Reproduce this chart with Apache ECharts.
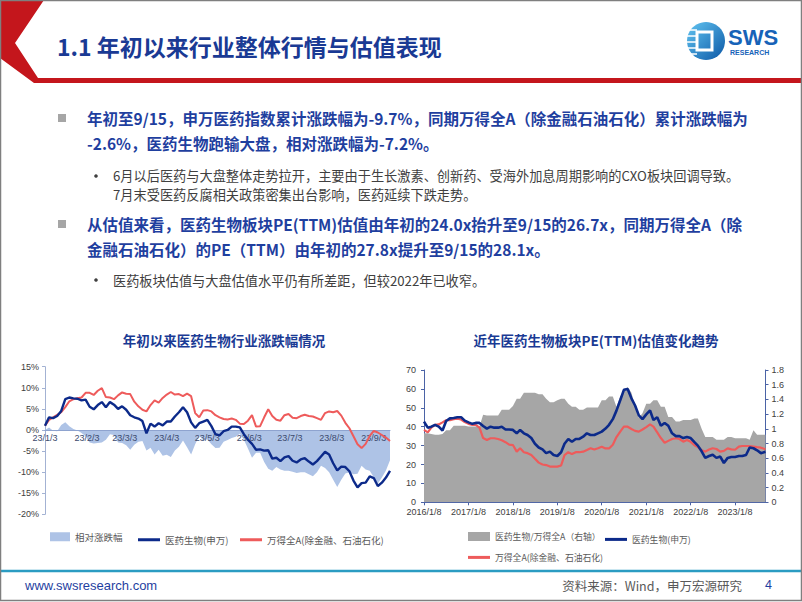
<!DOCTYPE html>
<html>
<head>
<meta charset="utf-8">
<script src="https://cdn.jsdelivr.net/npm/echarts@6/dist/echarts.min.js"></script>
<style>
html,body{margin:0;padding:0;background:#fff;}
#main{width:802px;height:602px;}
</style>
</head>
<body>
<div id="main"></div>
<script>
// ---------- Left chart data (2023 YTD change, %) ----------
const leftDates = [
 '2023-01-03','2023-01-06','2023-01-09','2023-01-12','2023-01-15','2023-01-18','2023-01-21','2023-01-24','2023-01-27','2023-01-30',
 '2023-02-02','2023-02-05','2023-02-08','2023-02-11','2023-02-14','2023-02-17','2023-02-20','2023-02-23','2023-02-26',
 '2023-03-01','2023-03-04','2023-03-07','2023-03-10','2023-03-13','2023-03-16','2023-03-19','2023-03-22','2023-03-25','2023-03-28','2023-03-31',
 '2023-04-03','2023-04-06','2023-04-09','2023-04-12','2023-04-15','2023-04-18','2023-04-21','2023-04-24','2023-04-27','2023-04-30',
 '2023-05-03','2023-05-06','2023-05-09','2023-05-12','2023-05-15','2023-05-18','2023-05-21','2023-05-24','2023-05-27','2023-05-30',
 '2023-06-02','2023-06-05','2023-06-08','2023-06-11','2023-06-14','2023-06-17','2023-06-20','2023-06-23','2023-06-26','2023-06-29',
 '2023-07-02','2023-07-05','2023-07-08','2023-07-11','2023-07-14','2023-07-17','2023-07-20','2023-07-23','2023-07-26','2023-07-29',
 '2023-08-01','2023-08-04','2023-08-07','2023-08-10','2023-08-13','2023-08-16','2023-08-19','2023-08-22','2023-08-25','2023-08-28','2023-08-31',
 '2023-09-03','2023-09-06','2023-09-09','2023-09-12','2023-09-15'
];
const relChange = [
 0, 0.6, -0.2, -0.3, 1.2, 1.8, 0.9, 0.2, -0.1, -0.7,
 -1.5, -3.0, -3.2, -3.1, -3.0, -2.3, -1.0, -1.2, -3.0, -3.1,
 -3.6, -4.7, -3.5, -2.8, -2.6, -4.9, -4.2, -5.8, -4.7, -6.1,
 -5.9, -6.4, -4.9, -4.0, -2.5, -4.1, -5.8, -3.4, -1.4, -2.5,
 -2.2, -3.4, -4.3, -4.2, -2.8, -2.4, -1.9, -1.6, -0.9, -2.3,
 -4.4, -6.6, -5.4, -5.4, -7.6, -9.2, -9.7, -8.8, -9.4, -9.7,
 -9.7, -9.9, -10.2, -10.0, -10.0, -10.5, -11.0, -10.0, -8.5, -9.0,
 -10.0, -11.8, -13.5, -11.8, -10.3, -10.0, -10.5, -10.4, -8.5, -9.4,
 -9.7, -11.2, -12.7, -11.3, -9.6, -7.2
];
const pharmaChange = [
 1.0, 3.0, 2.8, 3.3, 4.5, 7.3, 7.7, 7.5, 7.4, 7.0,
 7.2, 5.5, 4.9, 5.9, 6.6, 5.4, 6.6, 6.0, 5.0, 5.6,
 4.8, 3.5, 3.0, 2.7, 2.1, -0.8, 1.5, 0.8, 1.6, 1.1,
 2.0, 2.0, 3.2, 4.2, 5.4, 4.2, 1.8, 0.5, 1.6, 2.0,
 2.4, 0.9, -1.0, -1.3, -0.3, 0.0, 0.8, 0.8, 0.6, -1.0,
 -2.3, -3.3, -4.7, -4.6, -4.9, -4.8, -6.8, -6.6, -7.4, -6.5,
 -6.2, -7.3, -7.7, -7.0, -6.7, -7.5, -8.2, -7.4, -6.3, -5.2,
 -5.8, -7.9, -9.6, -8.7, -8.8, -9.8, -12.0, -13.6, -12.6, -12.5,
 -11.0, -11.4, -13.3, -12.5, -11.3, -9.7
];
const windAChange = [
 1.0, 2.4, 3.0, 3.6, 4.2, 5.4, 6.8, 7.3, 7.5, 7.7,
 8.8, 8.8, 8.3, 9.3, 9.9, 7.8, 7.7, 7.3, 8.2, 8.9,
 8.6, 8.5, 6.7, 5.6, 4.8, 4.4, 5.9, 7.0, 6.5, 7.6,
 8.4, 9.0, 8.4, 8.5, 8.0, 8.6, 8.0, 4.0, 3.0, 4.6,
 4.7, 4.4, 3.5, 3.0, 2.6, 2.5, 2.7, 2.4, 1.5, 1.4,
 2.2, 3.5, 0.8, 0.9, 3.0, 4.9, 3.3, 2.4, 2.2, 3.5,
 3.8, 2.9, 2.8, 3.3, 3.6, 3.3, 3.2, 2.8, 2.4, 4.0,
 4.4, 4.2, 4.5, 3.4, 1.7, 0.4, -1.5, -3.4, -4.3, -3.3,
 -1.4, -0.2, -0.6, -1.2, -1.8, -2.6
];
const leftTickDates = ['2023-01-03','2023-02-03','2023-03-03','2023-04-03','2023-05-03','2023-06-03','2023-07-03','2023-08-03','2023-09-03'];

// ---------- Right chart data (PE TTM) ----------
const peDates = [
 '2016-01-08','2016-02-08','2016-03-08','2016-04-08','2016-05-08','2016-06-08','2016-07-08','2016-08-08','2016-09-08','2016-10-08','2016-11-08','2016-12-08',
 '2017-01-08','2017-02-08','2017-03-08','2017-04-08','2017-05-08','2017-06-08','2017-07-08','2017-08-08','2017-09-08','2017-10-08','2017-11-08','2017-12-08',
 '2018-01-08','2018-02-08','2018-03-08','2018-04-08','2018-05-08','2018-06-08','2018-07-08','2018-08-08','2018-09-08','2018-10-08','2018-11-08','2018-12-08',
 '2019-01-08','2019-02-08','2019-03-08','2019-04-08','2019-05-08','2019-06-08','2019-07-08','2019-08-08','2019-09-08','2019-10-08','2019-11-08','2019-12-08',
 '2020-01-08','2020-02-08','2020-03-08','2020-04-08','2020-05-08','2020-06-08','2020-07-08','2020-08-08','2020-09-08','2020-10-08','2020-11-08','2020-12-08',
 '2021-01-08','2021-02-08','2021-03-08','2021-04-08','2021-05-08','2021-06-08','2021-07-08','2021-08-08','2021-09-08','2021-10-08','2021-11-08','2021-12-08',
 '2022-01-08','2022-02-08','2022-03-08','2022-04-08','2022-05-08','2022-06-08','2022-07-08','2022-08-08','2022-09-08','2022-10-08','2022-11-08','2022-12-08',
 '2023-01-08','2023-02-08','2023-03-08','2023-04-08','2023-05-08','2023-06-08','2023-07-08','2023-08-08','2023-09-15'
];
const peRatio = [
 0.94, 0.94, 0.93, 0.92, 0.92, 0.93, 0.98, 0.98, 1.04, 1.04, 1.04, 1.04,
 1.03, 1.03, 1.03, 1.03, 1.19, 1.18, 1.18, 1.18, 1.18, 1.26, 1.26, 1.26,
 1.31, 1.41, 1.41, 1.49, 1.49, 1.49, 1.49, 1.47, 1.47, 1.41, 1.36, 1.36,
 1.39, 1.41, 1.41, 1.34, 1.30, 1.30, 1.26, 1.26, 1.29, 1.29, 1.29, 1.29,
 1.39, 1.39, 1.44, 1.44, 1.30, 1.44, 1.52, 1.57, 1.49, 1.30, 1.15, 1.21,
 1.34, 1.34, 1.39, 1.39, 1.30, 1.30, 1.16, 1.16, 1.10, 1.10, 1.12, 1.12,
 1.12, 1.14, 1.14, 1.00, 0.89, 0.89, 0.89, 0.85, 0.85, 0.85, 0.89, 0.89,
 0.87, 0.87, 0.87, 0.87, 0.85, 0.98, 0.92, 0.92, 0.92
];
const pharmaPE = [
 42.7, 39.5, 40, 41, 40, 38, 43, 44.4, 44.6, 45, 45, 43.2,
 42.3, 41.5, 42, 42, 40.4, 39, 40, 39.5, 39.5, 40, 38.5, 38.5,
 38.3, 36.5, 38.3, 36.5, 35.6, 34, 31, 29, 28, 26, 26.8, 25,
 24.5, 26.5, 31, 33.5, 32, 33.5, 33.5, 34.7, 36.5, 35.6, 35.6, 36.5,
 37.4, 39, 41, 44, 48.5, 54, 59.5, 60, 55, 51.2, 46, 44,
 46.5, 48.6, 43.5, 45, 40.5, 42, 40.5, 36.5, 35, 35, 34, 34.5,
 34, 31.8, 30, 27, 23.5, 24.5, 25.2, 23.5, 24.2, 20.8, 23.5, 24,
 24.0, 24.5, 24.5, 25, 29, 28.6, 27.5, 26, 26.7
];
const windAPE = [
 38.3, 37, 39.5, 41, 41.2, 42.3, 43.4, 43.5, 44, 44.3, 43.8, 42.5,
 41.5, 41, 41, 39.5, 34, 33, 33.9, 33.9, 33.5, 32.8, 31.8, 30.5,
 30.3, 26.8, 28.6, 26.5, 26, 25, 23, 21, 20, 19.7, 18.9, 18.9,
 18.9, 19.5, 25, 26.5, 25.5, 26.5, 26.5, 26.8, 27.7, 28.6, 27.9, 28.6,
 29.4, 28.5, 28.5, 30.5, 34.5, 37.4, 40, 40, 38.8, 37.8, 37.4, 38.5,
 39.8, 41.2, 40, 37, 34, 31.5, 32.5, 33.5, 33.9, 33.5, 32.1, 33,
 32, 30.2, 29.2, 27.5, 26.8, 27.9, 28.6, 28.2, 26.8, 27.2, 28.5, 28.0,
 27.8, 29.5, 29.8, 29.8, 29.8, 29.5, 29.2, 28.9, 28.1
];
const rightTickDates = ['2016-01-08','2017-01-08','2018-01-08','2019-01-08','2020-01-08','2021-01-08','2022-01-08','2023-01-08'];

// ---------- helpers ----------
function ts(s){ const p = s.split('-').map(Number); return Date.UTC(p[0], p[1]-1, p[2]); }
function pairs(dates, vals){ return dates.map((d,i)=>[ts(d), vals[i]]); }

const NAVY = '#0c2a8a', RED = '#ee5b5b', AREA = '#aec3e6', GRAY = '#a6a6a6';
const CJK = "'Noto Sans CJK SC', sans-serif";
const LAT = "'Liberation Sans', 'Noto Sans CJK SC', sans-serif";
const TXT = '#1f3f9f';

const chart = echarts.init(document.getElementById('main'), null, {renderer:'svg', width:802, height:602});

function t(text, x, y, size, color, weight, align, family){
  return {type:'text', z:10, style:{text:text, x:x, y:y, font:(weight||'normal')+' '+size+'px '+(family||CJK), fill:color, textAlign:align||'left', textVerticalAlign:'middle'}};
}

const graphics = [
  {type:'rect', shape:{x:0.5,y:0.5,width:801,height:600}, style:{fill:'none', stroke:'#7f7f7f', lineWidth:1.5}, z:20},
  {type:'polygon', shape:{points:[[0,0],[44,0],[15,43],[38,78],[802,78],[802,83],[34,83],[0,58]]}, style:{fill:'#c4161c'}},
  t('1.1 年初以来行业整体行情与估值表现', 57, 46, 23, '#1a3a94', 'bold'),
  {type:'circle', shape:{cx:706, cy:41, r:19}, style:{fill:{type:'linear',x:0,y:0,x2:1,y2:1,colorStops:[{offset:0,color:'#63c6f2'},{offset:1,color:'#0b57a6'}]}}},
  {type:'rect', shape:{x:697,y:32,width:15,height:18}, style:{fill:'none', stroke:'#ffffff', lineWidth:3}},
  {type:'line', shape:{x1:688,y1:30,x2:697,y2:30}, style:{stroke:'#fff', lineWidth:1.5}},
  {type:'line', shape:{x1:687,y1:36,x2:697,y2:36}, style:{stroke:'#fff', lineWidth:1.5}},
  {type:'line', shape:{x1:687,y1:42,x2:697,y2:42}, style:{stroke:'#fff', lineWidth:1.5}},
  {type:'line', shape:{x1:687,y1:48,x2:697,y2:48}, style:{stroke:'#fff', lineWidth:1.5}},
  {type:'line', shape:{x1:689,y1:54,x2:697,y2:54}, style:{stroke:'#fff', lineWidth:1.5}},
  t('SWS', 728, 37, 22, '#1763b8', 'bold', 'left', LAT),
  t('RESEARCH', 730, 52, 7, '#1763b8', 'bold', 'left', LAT),
  {type:'rect', shape:{x:58,y:114,width:8,height:8}, style:{fill:'#a6a6a6'}},
  t('年初至9/15，申万医药指数累计涨跌幅为-9.7%，同期万得全A（除金融石油石化）累计涨跌幅为', 87, 118, 15.5, TXT, 'bold'),
  t('-2.6%，医药生物跑输大盘，相对涨跌幅为-7.2%。', 87, 143, 15.5, TXT, 'bold'),
  {type:'circle', shape:{cx:96, cy:176, r:1.8}, style:{fill:'#404040'}},
  t('6月以后医药与大盘整体走势拉开，主要由于生长激素、创新药、受海外加息周期影响的CXO板块回调导致。', 113, 175.5, 13.2, '#404040'),
  t('7月末受医药反腐相关政策密集出台影响，医药延续下跌走势。', 113, 194, 13.2, '#404040'),
  {type:'rect', shape:{x:58,y:220,width:8,height:8}, style:{fill:'#a6a6a6'}},
  t('从估值来看，医药生物板块PE(TTM)估值由年初的24.0x抬升至9/15的26.7x，同期万得全A（除', 87, 224, 15.5, TXT, 'bold'),
  t('金融石油石化）的PE（TTM）由年初的27.8x提升至9/15的28.1x。', 87, 249, 15.5, TXT, 'bold'),
  {type:'circle', shape:{cx:96, cy:280, r:1.8}, style:{fill:'#404040'}},
  t('医药板块估值与大盘估值水平仍有所差距，但较2022年已收窄。', 113, 280, 13.2, '#404040'),
  t('年初以来医药生物行业涨跌幅情况', 224, 340, 13.5, '#1a3a94', 'bold', 'center'),
  t('近年医药生物板块PE(TTM)估值变化趋势', 596, 340, 13.5, '#1a3a94', 'bold', 'center'),
  {type:'line', shape:{x1:0,y1:571,x2:802,y2:571}, style:{stroke:'#2b9cc2', lineWidth:2.5}, z:15},
  t('www.swsresearch.com', 25, 585, 13, '#1f3f9f', 'normal', 'left', LAT),
  t('资料来源：Wind，申万宏源研究', 742, 585, 12.5, '#595959', 'normal', 'right'),
  t('4', 765, 585, 12.5, '#1f3f9f', 'normal', 'left', LAT)
];

const axisLbl = {fontSize:9, color:'#404040', fontFamily:LAT};
function fmtLeft(v){ const d=new Date(v); return '23/'+(d.getUTCMonth()+1)+'/'+d.getUTCDate(); }
function fmtRight(v){ const d=new Date(v); return d.getUTCFullYear()+'/'+(d.getUTCMonth()+1)+'/'+d.getUTCDate(); }

// left grid: 15% at top, -20% at bottom -> zero line sits 20/35 of the height above the bottom
const LG_H = 147.6;
const zeroOffset = -LG_H * 20 / 35;

function lg(name, left, top, w, h, size){
  return {left:left, top:top, itemWidth:w, itemHeight:h, selectedMode:false,
    textStyle:{fontSize:size, color:'#595959', fontFamily:CJK},
    data:[{name:name, icon:'rect'}]};
}

const option = {
  animation:false,
  backgroundColor:'#ffffff',
  graphic: graphics,
  grid:[
    {left:45, top:366.7, width:345, height:LG_H, containLabel:false},
    {left:424, top:370, width:341.5, height:132.3, containLabel:false}
  ],
  xAxis:[
    {type:'value', gridIndex:0, min:ts('2023-01-03'), max:ts('2023-09-15'), scale:true, z:2,
     offset:zeroOffset,
     axisLine:{onZero:false, lineStyle:{color:'#8ea3cf', width:1}},
     axisTick:{show:false},
     splitLine:{show:false},
     axisLabel:Object.assign({}, axisLbl, {margin:4, color:'#3c4a6e', customValues:leftTickDates.map(ts), hideOverlap:false, formatter:fmtLeft})},
    {type:'value', gridIndex:1, min:ts('2016-01-08'), max:ts('2023-09-15'), scale:true,
     axisLine:{lineStyle:{color:'#4b63a6', width:1}},
     axisTick:{show:true, length:3, customValues:rightTickDates.map(ts), lineStyle:{color:'#4b63a6'}},
     splitLine:{show:false},
     axisLabel:Object.assign({}, axisLbl, {margin:5, customValues:rightTickDates.map(ts), hideOverlap:false, formatter:fmtRight})}
  ],
  yAxis:[
    {type:'value', gridIndex:0, min:-20, max:15, interval:5,
     axisLine:{show:true, lineStyle:{color:'#a3b2d3'}},
     axisTick:{show:true, length:3, lineStyle:{color:'#a3b2d3'}},
     splitLine:{show:false},
     axisLabel:Object.assign({}, axisLbl, {formatter:'{value}%', margin:6})},
    {type:'value', gridIndex:1, min:0, max:70, interval:10,
     axisLine:{show:true, lineStyle:{color:'#4b63a6'}},
     axisTick:{show:true, length:3, lineStyle:{color:'#4b63a6'}},
     splitLine:{show:false},
     axisLabel:Object.assign({}, axisLbl, {margin:8})},
    {type:'value', gridIndex:1, position:'right', min:0, max:1.8, interval:0.2,
     axisLine:{show:true, lineStyle:{color:'#4b63a6'}},
     axisTick:{show:true, length:3, lineStyle:{color:'#4b63a6'}},
     splitLine:{show:false},
     axisLabel:Object.assign({}, axisLbl, {margin:6, formatter:function(v){ return String(Math.round(v*10)/10); }})}
  ],
  legend:[
    lg('相对涨跌幅', 45, 527, 20, 9, 9.5),
    lg('医药生物(申万)', 133, 530, 22, 3, 9.5),
    lg('万得全A(除金融、石油石化)', 235, 530, 22, 3, 9.5),
    lg('医药生物/万得全A（右轴）', 463, 527, 22, 9, 8.8),
    lg('医药生物(申万)', 600, 530, 22, 3, 8.8),
    lg('万得全A(除金融、石油石化)', 463, 548, 22, 3, 8.8)
  ],
  series:[
    {name:'相对涨跌幅', type:'line', xAxisIndex:0, yAxisIndex:0, data:pairs(leftDates, relChange),
     symbol:'none', lineStyle:{width:0, color:AREA}, itemStyle:{color:AREA}, areaStyle:{color:AREA, opacity:1}, z:1},
    {name:'万得全A(除金融、石油石化)', type:'line', xAxisIndex:0, yAxisIndex:0, data:pairs(leftDates, windAChange),
     symbol:'none', lineStyle:{width:2, color:RED}, itemStyle:{color:RED}, z:3},
    {name:'医药生物(申万)', type:'line', xAxisIndex:0, yAxisIndex:0, data:pairs(leftDates, pharmaChange),
     symbol:'none', lineStyle:{width:2.4, color:NAVY}, itemStyle:{color:NAVY}, z:4},
    {name:'医药生物/万得全A（右轴）', type:'line', xAxisIndex:1, yAxisIndex:2, data:pairs(peDates, peRatio),
     symbol:'none', lineStyle:{width:0, color:GRAY}, itemStyle:{color:GRAY}, areaStyle:{color:GRAY, opacity:1}, z:1},
    {name:'万得全A(除金融、石油石化)', type:'line', xAxisIndex:1, yAxisIndex:1, data:pairs(peDates, windAPE),
     symbol:'none', lineStyle:{width:2.2, color:RED}, itemStyle:{color:RED}, z:3},
    {name:'医药生物(申万)', type:'line', xAxisIndex:1, yAxisIndex:1, data:pairs(peDates, pharmaPE),
     symbol:'none', lineStyle:{width:2.6, color:NAVY}, itemStyle:{color:NAVY}, z:4}
  ]
};
chart.setOption(option);
</script>
</body>
</html>
